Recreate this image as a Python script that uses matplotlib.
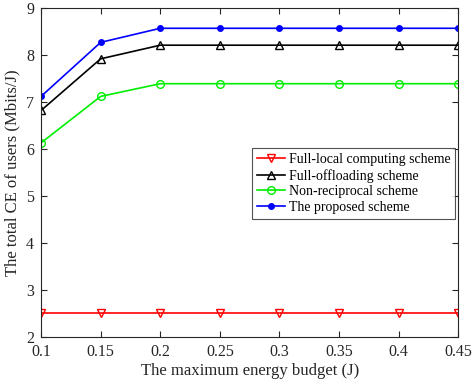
import matplotlib
matplotlib.use('Agg')
import matplotlib.pyplot as plt

plt.rcParams['font.family'] = 'Liberation Serif'

energy_budget = [0.1, 0.15, 0.2, 0.25, 0.3, 0.35, 0.4, 0.45]
full_local = [2.5, 2.5, 2.5, 2.5, 2.5, 2.5, 2.5, 2.5]
full_offloading = [6.82, 7.92, 8.21, 8.21, 8.21, 8.21, 8.21, 8.21]
non_reciprocal = [6.13, 7.12, 7.39, 7.39, 7.39, 7.39, 7.39, 7.39]
proposed = [7.12, 8.27, 8.57, 8.57, 8.57, 8.57, 8.57, 8.57]

fig = plt.figure(figsize=(4.72, 3.85), dpi=100)
ax = fig.add_axes([0.087, 0.125, 0.884, 0.854])

ax.plot(energy_budget, full_local, color='red', marker='v', markersize=6,
        markerfacecolor='none', linewidth=1.2, label='Full-local computing scheme')
ax.plot(energy_budget, full_offloading, color='black', marker='^', markersize=6,
        markerfacecolor='none', linewidth=1.2, label='Full-offloading scheme')
ax.plot(energy_budget, non_reciprocal, color='#00ee00', marker='o', markersize=5.5,
        markerfacecolor='none', linewidth=1.2, label='Non-reciprocal scheme')
ax.plot(energy_budget, proposed, color='blue', marker='.', markersize=8,
        linewidth=1.2, label='The proposed scheme')

ax.set_xlim(0.1, 0.45)
ax.set_ylim(2, 9)
ax.set_xticks(energy_budget)
ax.set_xticklabels(['0.1', '0.15', '0.2', '0.25', '0.3', '0.35', '0.4', '0.45'])
ax.set_yticks(range(2, 10))
ax.tick_params(direction='in', top=True, right=True, labelsize=11.5, length=4, colors='#262626')
ax.tick_params(axis='x', pad=5)
ax.tick_params(axis='y', pad=5)
for spine in ax.spines.values():
    spine.set_color('#262626')
    spine.set_linewidth(0.8)

ax.set_xlabel('The maximum energy budget (J)', fontsize=12, color='#262626', labelpad=2)
ax.set_ylabel('The total CE of users (Mbits/J)', fontsize=12, color='#262626', labelpad=4)

leg = ax.legend(loc='upper left', bbox_to_anchor=(0.506, 0.574), fontsize=10,
                frameon=True, fancybox=False, edgecolor='#262626',
                handlelength=2.0, borderpad=0.35, labelspacing=0.2,
                handletextpad=0.3, borderaxespad=0)
leg.get_frame().set_linewidth(0.8)

fig.savefig('out.png', dpi=100)
